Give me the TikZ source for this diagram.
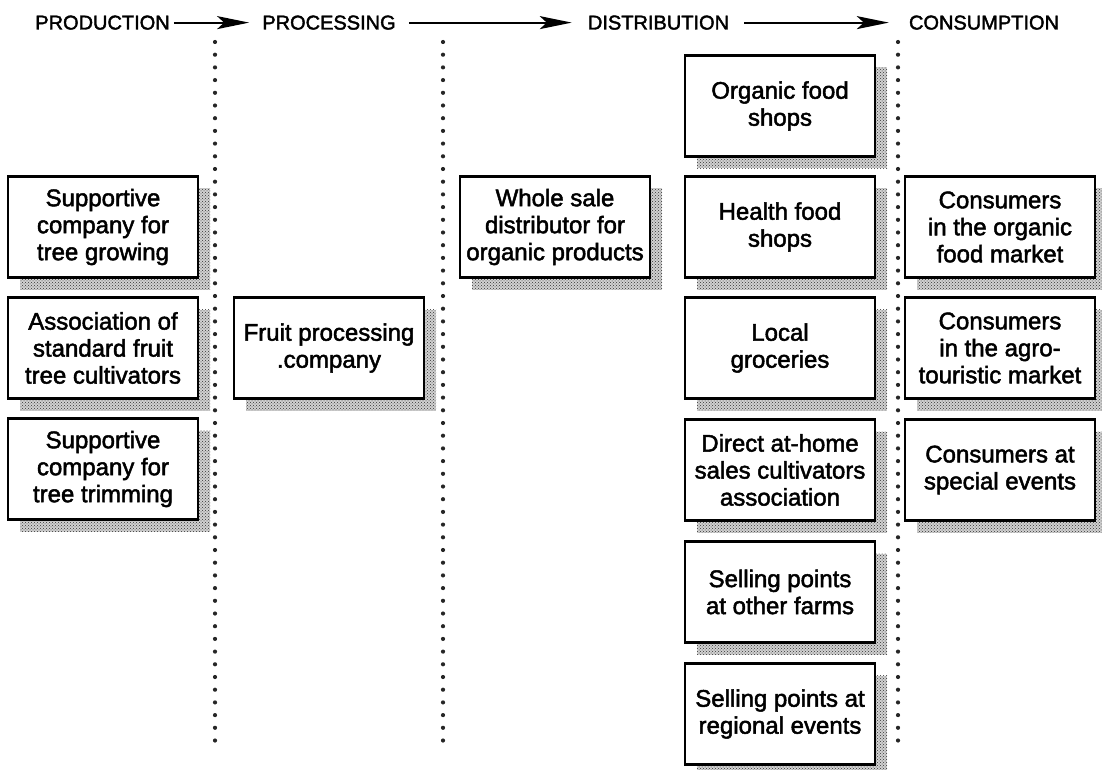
\documentclass[tikz,border=0pt]{standalone}
\usepackage{fontspec}
\setmainfont[FakeBold=2]{Liberation Sans}
\usetikzlibrary{arrows.meta,shadows,patterns}

\tikzset{
  stagebox/.style={draw, line width=2.8pt, fill=white,
    minimum width=190pt, minimum height=101pt, inner sep=0pt,
    align=center, font=\fontsize{24}{27}\selectfont,
    general shadow={shadow xshift=12pt, shadow yshift=-12pt, fill=black!18},
    general shadow={shadow xshift=12pt, shadow yshift=-12pt,
      pattern=crosshatch dots, pattern color=black!80}},
  stagehead/.style={inner sep=0pt, anchor=base, font=\fontsize{20}{22}\selectfont},
  flowarrow/.style={line width=2pt,
    -{Stealth[length=32pt, width=13pt, inset=7pt]}},
  divider/.style={line width=4.2pt, line cap=round, black!85,
    dash pattern=on 0pt off 12.7pt}
}

\begin{document}
\begin{tikzpicture}[x=1pt, y=-1pt]
  \useasboundingbox (0,0) rectangle (1102,770);

  % column dividers
  \draw[divider] (215,42) -- (215,752);
  \draw[divider] (443,42) -- (443,752);
  \draw[divider] (898,42) -- (898,752);

  % stage headings
  \node[stagehead] (prod) at (102.5,29.5) {PRODUCTION};
  \node[stagehead] (proc) at (329,29.5) {PROCESSING};
  \node[stagehead] (dist) at (658.5,29.5) {DISTRIBUTION};
  \node[stagehead] (cons) at (984,29.5) {CONSUMPTION};

  \draw[flowarrow, shorten <=4pt, shorten >=13pt] (prod.east) -- (proc.west);
  \draw[flowarrow, shorten <=13pt, shorten >=16pt] (proc.east) -- (dist.west);
  \draw[flowarrow, shorten <=15pt, shorten >=20pt] (dist.east) -- (cons.west);

  % production
  \node[stagebox] (p1) at (103,227) {Supportive\\company for\\tree growing};
  \node[stagebox] (p2) at (103,348) {Association of\\standard fruit\\tree cultivators};
  \node[stagebox] (p3) at (103,469) {Supportive\\company for\\tree trimming};

  % processing
  \node[stagebox] (q1) at (329,348) {Fruit processing\\.company};

  % distribution
  \node[stagebox] (w1) at (555,227) {Whole sale\\distributor for\\organic products};
  \node[stagebox] (d1) at (780,106) {Organic food\\shops};
  \node[stagebox] (d2) at (780,227) {Health food\\shops};
  \node[stagebox] (d3) at (780,348) {Local\\groceries};
  \node[stagebox] (d4) at (780,470) {Direct at-home\\sales cultivators\\association};
  \node[stagebox] (d5) at (780,592) {Selling points\\at other farms};
  \node[stagebox] (d6) at (780,714) {Selling points at\\regional events};

  % consumption
  \node[stagebox] (c1) at (1000,227) {Consumers\\in the organic\\food market};
  \node[stagebox] (c2) at (1000,348) {Consumers\\in the agro-\\touristic market};
  \node[stagebox] (c3) at (1000,470) {Consumers at\\special events};
\end{tikzpicture}
\end{document}
